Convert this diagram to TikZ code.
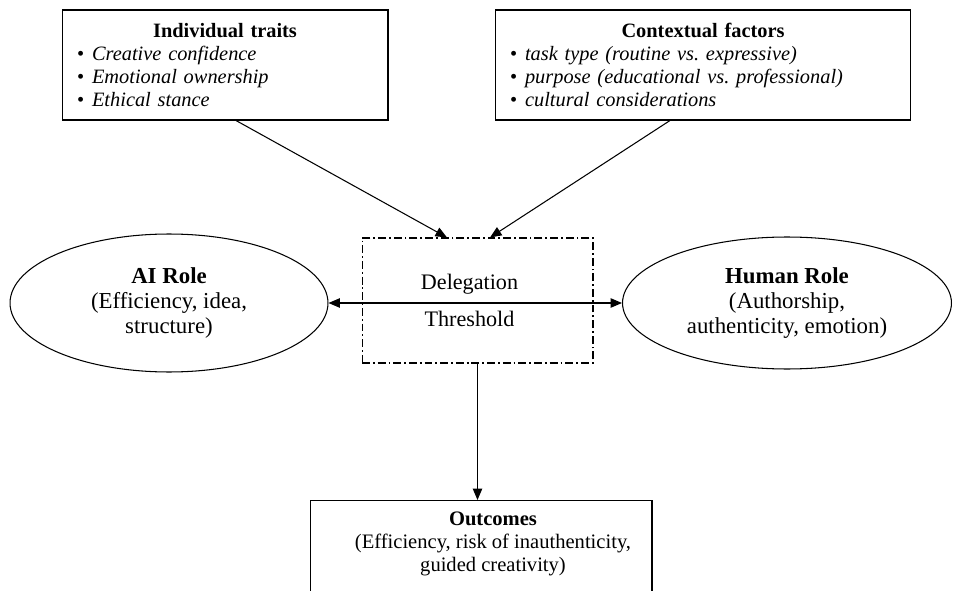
\documentclass[tikz,border=0pt]{standalone}
\usepackage{fontspec}
\setmainfont{Liberation Serif}
\usetikzlibrary{positioning,arrows.meta,shapes.geometric}
\setlength{\parindent}{0pt}
\frenchspacing
\newcommand{\itm}[1]{\makebox[0.3cm][l]{\textbullet}\textit{#1}}

\begin{document}
\begin{tikzpicture}[x=0.02cm,y=-0.02cm,
  box/.style={draw,rectangle,line width=0.6pt,align=left,inner xsep=0.3cm,inner ysep=2pt,minimum height=2.2cm,font=\fontsize{11.6}{13.1}\selectfont},
  role/.style={draw,ellipse,line width=0.6pt,inner sep=0pt,align=center,font=\fontsize{13}{14.2}\selectfont},
  thr/.style={draw,rectangle,line width=0.6pt,dash pattern=on 4.5pt off 1.7pt on 1pt off 1.7pt,minimum width=4.62cm,minimum height=2.5cm},
  txt/.style={inner sep=0pt,align=center},
  tip/.style={Triangle[length=0.23cm,width=0.19cm]},
  arr/.style={-{Triangle[length=0.23cm,width=0.19cm]},line width=0.6pt}]
\useasboundingbox (0,0) rectangle (953,591);
\clip (0,0) rectangle (953,591);
% influences
\node[box,minimum width=6.52cm,text width=5.92cm] (traits) at (225,65) {\hfil\textbf{Individual traits}\hfil\\ \itm{Creative confidence}\\ \itm{Emotional ownership}\\ \itm{Ethical stance}};
\node[box,minimum width=8.32cm,text width=7.72cm] (factors) at (703,65) {\hfil\textbf{Contextual factors}\hfil\\ \itm{task type (routine vs. expressive)}\\ \itm{purpose (educational vs. professional)}\\ \itm{cultural considerations}};
% roles and threshold
\node[role,minimum width=6.36cm,minimum height=2.76cm] (ai) at (169,303) {\textbf{AI Role}\\(Efficiency, idea,\\structure)};
\node[role,minimum width=6.58cm,minimum height=2.64cm] (human) at (787,303) {\textbf{Human Role}\\(Authorship,\\authenticity, emotion)};
\node[thr] (thresh) at (477.5,300.5) {};
\node[txt,font=\fontsize{12.6}{21}\selectfont] (threshtxt) at ([xshift=-0.16cm]thresh.center) {Delegation\\Threshold};
% outcomes
\node[draw,rectangle,line width=0.6pt,minimum width=6.84cm,minimum height=2.4cm,anchor=north] (outc) at (481,500) {};
\node[txt,font=\fontsize{11.7}{13}\selectfont,anchor=north,below=0.24cm of outc.north,xshift=0.24cm] (outctxt) {\textbf{Outcomes}\\(Efficiency, risk of inauthenticity,\\guided creativity)};
\draw[arr] ([xshift=0.22cm]traits.south) -- ([xshift=-0.61cm]thresh.north);
\draw[arr] ([xshift=-0.66cm]factors.south) -- ([xshift=0.25cm]thresh.north);
\draw[{Triangle[length=0.23cm,width=0.19cm]}-{Triangle[length=0.23cm,width=0.19cm]},line width=0.6pt] (ai.east) -- (human.west);
\draw[arr] (thresh.south) -- (thresh.south |- outc.north);
\end{tikzpicture}
\end{document}
